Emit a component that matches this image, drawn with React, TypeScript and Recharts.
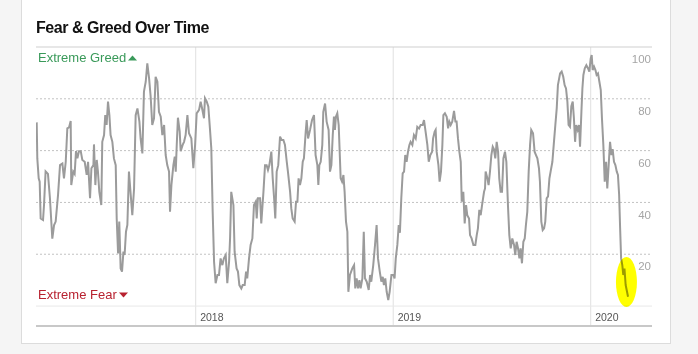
import React from 'react';
import { LineChart, Line, XAxis, YAxis, ReferenceLine, ReferenceDot } from 'recharts';

// time in decimal years, index value 0-100
const years: number[] = [
  2017.195, 2017.198, 2017.205, 2017.210, 2017.215, 2017.227, 2017.232, 2017.240, 2017.252, 2017.262,
  2017.274, 2017.283, 2017.291, 2017.303, 2017.313, 2017.325, 2017.333, 2017.342, 2017.350, 2017.359,
  2017.367, 2017.370, 2017.380, 2017.387, 2017.394, 2017.401, 2017.409, 2017.418, 2017.426, 2017.438,
  2017.448, 2017.455, 2017.465, 2017.472, 2017.482, 2017.485, 2017.492, 2017.499, 2017.505, 2017.512,
  2017.522, 2017.527, 2017.536, 2017.542, 2017.549, 2017.556, 2017.563, 2017.569, 2017.578, 2017.586,
  2017.595, 2017.600, 2017.607, 2017.613, 2017.620, 2017.627, 2017.634, 2017.640, 2017.647, 2017.654,
  2017.662, 2017.671, 2017.679, 2017.688, 2017.696, 2017.705, 2017.715, 2017.721, 2017.730, 2017.738,
  2017.747, 2017.755, 2017.764, 2017.772, 2017.780, 2017.789, 2017.797, 2017.806, 2017.814, 2017.823,
  2017.831, 2017.840, 2017.848, 2017.856, 2017.865, 2017.870, 2017.877, 2017.887, 2017.894, 2017.899,
  2017.904, 2017.910, 2017.919, 2017.924, 2017.934, 2017.941,
  2017.949, 2017.958, 2017.966, 2017.978, 2017.988, 2017.997, 2018.005, 2018.017, 2018.025, 2018.034,
  2018.042, 2018.047, 2018.056, 2018.064, 2018.072, 2018.079, 2018.086, 2018.093, 2018.101, 2018.110,
  2018.118, 2018.126, 2018.135, 2018.143, 2018.152, 2018.160, 2018.169, 2018.174, 2018.180, 2018.191,
  2018.197, 2018.207, 2018.214, 2018.221, 2018.231, 2018.238, 2018.248, 2018.255, 2018.261, 2018.270,
  2018.278, 2018.287, 2018.295, 2018.304, 2018.309, 2018.315, 2018.326, 2018.332, 2018.343, 2018.351,
  2018.359, 2018.366, 2018.373, 2018.383, 2018.390, 2018.397, 2018.403, 2018.410, 2018.418, 2018.427,
  2018.435, 2018.444, 2018.452, 2018.461, 2018.467, 2018.478, 2018.484, 2018.491, 2018.501, 2018.508,
  2018.515, 2018.521, 2018.528, 2018.535, 2018.542, 2018.548, 2018.557, 2018.562, 2018.569, 2018.579,
  2018.589, 2018.599, 2018.607, 2018.616, 2018.621, 2018.626, 2018.633, 2018.641, 2018.646, 2018.655,
  2018.663, 2018.673, 2018.680, 2018.687, 2018.694, 2018.700,
  2018.705, 2018.710, 2018.717, 2018.724, 2018.729, 2018.734, 2018.741, 2018.748, 2018.754, 2018.761,
  2018.768, 2018.773, 2018.781, 2018.793, 2018.802, 2018.808, 2018.815, 2018.822, 2018.829, 2018.835,
  2018.844, 2018.851, 2018.857, 2018.866, 2018.876, 2018.883, 2018.889, 2018.899, 2018.908, 2018.916,
  2018.923, 2018.932, 2018.940, 2018.947, 2018.953, 2018.960, 2018.967, 2018.975, 2018.982, 2018.991,
  2019.001, 2019.007, 2019.013, 2019.021, 2019.028, 2019.034, 2019.041, 2019.048, 2019.055, 2019.061,
  2019.068, 2019.075, 2019.082, 2019.088, 2019.097, 2019.105, 2019.114, 2019.122, 2019.131, 2019.139,
  2019.149, 2019.156, 2019.164, 2019.173, 2019.180, 2019.188, 2019.197, 2019.202, 2019.210, 2019.215,
  2019.220, 2019.229, 2019.235, 2019.242, 2019.249, 2019.254, 2019.262, 2019.271, 2019.278, 2019.284,
  2019.291, 2019.299, 2019.308, 2019.315, 2019.321, 2019.328, 2019.335, 2019.342, 2019.347, 2019.355,
  2019.362, 2019.369, 2019.375, 2019.384, 2019.389, 2019.397, 2019.406, 2019.416, 2019.423, 2019.429,
  2019.436, 2019.443, 2019.450, 2019.460,
  2019.465, 2019.468, 2019.477, 2019.483, 2019.490, 2019.497, 2019.504, 2019.510, 2019.517, 2019.524,
  2019.531, 2019.537, 2019.544, 2019.551, 2019.558, 2019.566, 2019.573, 2019.581, 2019.588, 2019.595,
  2019.603, 2019.612, 2019.618, 2019.625, 2019.632, 2019.639, 2019.645, 2019.652, 2019.659, 2019.666,
  2019.672, 2019.679, 2019.686, 2019.693, 2019.699, 2019.708, 2019.716, 2019.723, 2019.730, 2019.738,
  2019.743, 2019.750, 2019.757, 2019.764, 2019.770, 2019.777, 2019.784, 2019.791, 2019.797, 2019.806,
  2019.814, 2019.821, 2019.828, 2019.834, 2019.845, 2019.853, 2019.861, 2019.868, 2019.875, 2019.882,
  2019.888, 2019.895, 2019.902, 2019.909, 2019.915, 2019.921, 2019.927, 2019.934, 2019.941, 2019.946,
  2019.953, 2019.958, 2019.963, 2019.970, 2019.978, 2019.986, 2019.993, 2020.000, 2020.005, 2020.010,
  2020.017, 2020.024, 2020.030, 2020.037, 2020.044, 2020.051, 2020.057, 2020.064, 2020.071, 2020.078,
  2020.084, 2020.091, 2020.098, 2020.105, 2020.111, 2020.118, 2020.125, 2020.132, 2020.138, 2020.144,
  2020.149, 2020.154, 2020.160, 2020.165, 2020.171, 2020.177, 2020.184, 2020.189,
];

const values: number[] = [
  70.9, 57, 49.3, 48, 33.8, 33.2, 39, 52, 51, 41.6,
  26, 31.3, 32.6, 42.9, 54.4, 55, 49.3, 55.7, 68.6, 69,
  71.4, 46.7, 51.9, 51, 59.8, 57, 59.8, 59.8, 56.4, 55.7,
  50.6, 55.7, 41.6, 53.2, 54.4, 62.4, 46.7, 56.4, 51.9, 44.1,
  39, 63.4, 66, 73.7, 69.9, 78.9, 73.7, 66, 63.4, 57,
  54.4, 33.8, 20.3, 32.6, 14.5, 13.3, 21, 19.7, 28.7, 31.3,
  51.9, 42.9, 35.1, 45.4, 73.7, 76.3, 71.2, 64.7, 58.9, 82.8,
  86.6, 93.7, 87.9, 80.8, 69.9, 72.5, 88.5, 86.6, 75, 73.1,
  66, 69.9, 58.3, 54.4, 51.9, 36.4, 46.7, 54.4, 57.7, 51.9,
  62.2, 72.7, 67.3, 59.8, 62.2, 63.4,
  66, 73.7, 66.7, 64.7, 53.2, 62.2, 74.4, 75.7, 78.9, 75.7,
  72.5, 80.2, 78.9, 77, 68.6, 60.9, 36.4, 17.1, 8.8, 12,
  12, 18.4, 15.8, 18.4, 19.7, 8.8, 17.1, 26.1, 44.1, 39,
  21, 14.5, 13.3, 8.1, 6.8, 8.1, 8.1, 13.3, 10.7, 18.4,
  23.6, 26.1, 39, 40.3, 33.8, 41.6, 41.6, 31.9, 44.1, 54.4,
  54.4, 52.5, 54.4, 59.6, 49.3, 41.6, 33.8, 51.9, 54.4, 65.4,
  64.1, 64.1, 62.2, 55.7, 51.9, 44.1, 37.7, 33.8, 32.6, 40.3,
  40.3, 49.3, 46.7, 49.3, 55.7, 57, 67.3, 71.8, 64.7, 68,
  71.8, 73.7, 58.3, 54.4, 46.7, 54.4, 55.7, 62.2, 75, 78.2,
  71.2, 68, 51.9, 54.4, 66, 73.1,
  68, 73.1, 74.4, 69.9, 59.6, 49.3, 48, 50.6, 44.1, 32.6,
  28.7, 5.5, 12, 14.5, 15.8, 6.8, 10.7, 6.8, 10, 6.8,
  10.7, 28.7, 10.7, 9.4, 6.2, 12, 9.4, 15.8, 23.6, 31.3,
  18.4, 13.3, 9.4, 11.3, 8.1, 10.7, 5.5, 2.3, 5.5, 12,
  12, 10.7, 18.4, 23.6, 31.3, 28.3, 41.6, 51.2, 51.9, 58.3,
  55.7, 59.6, 62.2, 63.4, 62.2, 66, 64.7, 69.2, 68.5, 69.9,
  69.9, 71.8, 67.3, 62.2, 55.7, 58.3, 59.6, 64.7, 67.3, 68,
  59.6, 54.4, 48, 51.9, 62.2, 73.7, 74.4, 73.1, 68.6, 71.2,
  69.9, 71.2, 75.3, 71.2, 71.2, 64.7, 59.6, 55.7, 40.3, 44.1,
  31.9, 39, 35.1, 33.8, 27.4, 26.1, 23.6, 23.6, 27.4, 30,
  37.1, 35.1, 39, 44.1,
  45.4, 51.9, 49.3, 46.7, 51.9, 58.3, 61.5, 60.6, 57, 63.4,
  59.6, 49.3, 44.1, 44.1, 57, 59.6, 55.7, 39, 27.4, 22.3,
  26.1, 23.6, 19.7, 24.8, 22.3, 18.4, 22.3, 16.5, 24.8, 26.1,
  31.3, 36.4, 51.9, 62.2, 68, 66.7, 59.6, 58.3, 57, 53.2,
  48, 32.6, 29.3, 30, 32.6, 41.6, 42.3, 49.3, 51.9, 55.7,
  63.4, 69.9, 76.3, 85.3, 89.8, 90.5, 88.5, 85.3, 84, 78.9,
  69.9, 69.2, 77.2, 78.9, 72.5, 63.4, 69.9, 68, 69.9, 61.5,
  75, 84, 89.2, 91.8, 93, 91.8, 90.5, 95.6, 96.9, 91.1,
  92.4, 91.1, 89.2, 89.8, 86.6, 83.4, 72.5, 62.2, 48, 55.7,
  45.4, 54.4, 63.4, 58.3, 60.6, 55.7, 54.4, 51.9, 50.6, 42.9,
  30, 18.4, 15.8, 12, 14.5, 8.1, 5.5, 3.6,
];

const yearTicks: number[] = [2018, 2019, 2020];
const valueTicks: number[] = [100, 80, 60, 40, 20];
const xDomain: [number, number] = [2017.1914, 2020.3104];
const yDomain: [number, number] = [-7.7, 100];
const highlight = { t: 2020.181, v: 9.3 };

const data = years.map((t, i) => ({ t, v: values[i] }));

const FONT = '"Liberation Sans", Arial, Helvetica, sans-serif';

const yearLabel = (text: string) => (props: any) => {
  const vb = props.viewBox || {};
  return (
    <text x={vb.x + 4.5} y={vb.y + vb.height - 5.4} fontSize={10.5} fill="#555" fontFamily={FONT}>
      {text}
    </text>
  );
};

const valueLabel = (text: string) => (props: any) => {
  const vb = props.viewBox || {};
  return (
    <text x={vb.x + vb.width - 1} y={vb.y + 16.2} textAnchor="end" fontSize={11.5} fill="#a5a5a5" fontFamily={FONT}>
      {text}
    </text>
  );
};

export default function App() {
  return (
    <div style={{ position: 'absolute', left: 0, top: 0, width: 698, height: 354, background: '#f5f5f5', overflow: 'hidden', fontFamily: FONT }}>
      <div style={{ position: 'absolute', left: 21, top: -10, width: 650, height: 354, boxSizing: 'border-box', background: '#fff', border: '1px solid #dcdcdc' }} />
      <div style={{ position: 'absolute', left: 36, top: 20, fontSize: 16, fontWeight: 700, lineHeight: '16px', letterSpacing: -0.45, color: '#111', whiteSpace: 'nowrap' }}>
        Fear &amp; Greed Over Time
      </div>
      <div style={{ position: 'absolute', left: 0, top: 0 }}>
        <LineChart width={698} height={354} data={data} margin={{ top: 47, right: 46, bottom: 28, left: 36 }}>
          <XAxis dataKey="t" type="number" domain={xDomain} allowDataOverflow hide />
          <YAxis type="number" domain={yDomain} allowDataOverflow hide />
          {yearTicks.map((yr) => (
            <ReferenceLine key={'x' + yr} x={yr} stroke="#e0e0e0" strokeWidth={1} ifOverflow="visible" label={yearLabel(String(yr))} />
          ))}
          <ReferenceLine y={0} stroke="#e8e8e8" strokeWidth={1} ifOverflow="visible" />
          {valueTicks.map((v) => (
            <ReferenceLine
              key={'y' + v}
              y={v}
              stroke={v === 100 ? '#cfcfcf' : '#c2c2c2'}
              strokeWidth={1}
              strokeDasharray={v === 100 ? undefined : '2 2'}
              ifOverflow="visible"
              label={valueLabel(String(v))}
            />
          ))}
          <ReferenceLine y={yDomain[0]} stroke="#c8c8c8" strokeWidth={2} ifOverflow="visible" />
          <Line dataKey="v" type="linear" stroke="#9b9b9b" strokeWidth={2} dot={false} activeDot={false} isAnimationActive={false} />
          <ReferenceDot
            x={highlight.t}
            y={highlight.v}
            ifOverflow="visible"
            shape={(p: any) => (
              <ellipse cx={p.cx} cy={p.cy} rx={10.5} ry={25} fill="#ffff00" style={{ mixBlendMode: 'multiply' }} />
            )}
          />
        </LineChart>
      </div>
      <div style={{ position: 'absolute', left: 38, top: 51, fontSize: 13, lineHeight: '13px', color: '#3a9a5a', whiteSpace: 'nowrap' }}>
        Extreme Greed
      </div>
      <svg style={{ position: 'absolute', left: 128, top: 55 }} width={9} height={6}>
        <polygon points="0,5.5 4.5,0.5 9,5.5" fill="#3a9a5a" />
      </svg>
      <div style={{ position: 'absolute', left: 38, top: 288.3, fontSize: 13, lineHeight: '13px', color: '#b82230', whiteSpace: 'nowrap' }}>
        Extreme Fear
      </div>
      <svg style={{ position: 'absolute', left: 118.5, top: 291.5 }} width={9} height={6}>
        <polygon points="0,0.5 9,0.5 4.5,5.5" fill="#b82230" />
      </svg>
    </div>
  );
}
